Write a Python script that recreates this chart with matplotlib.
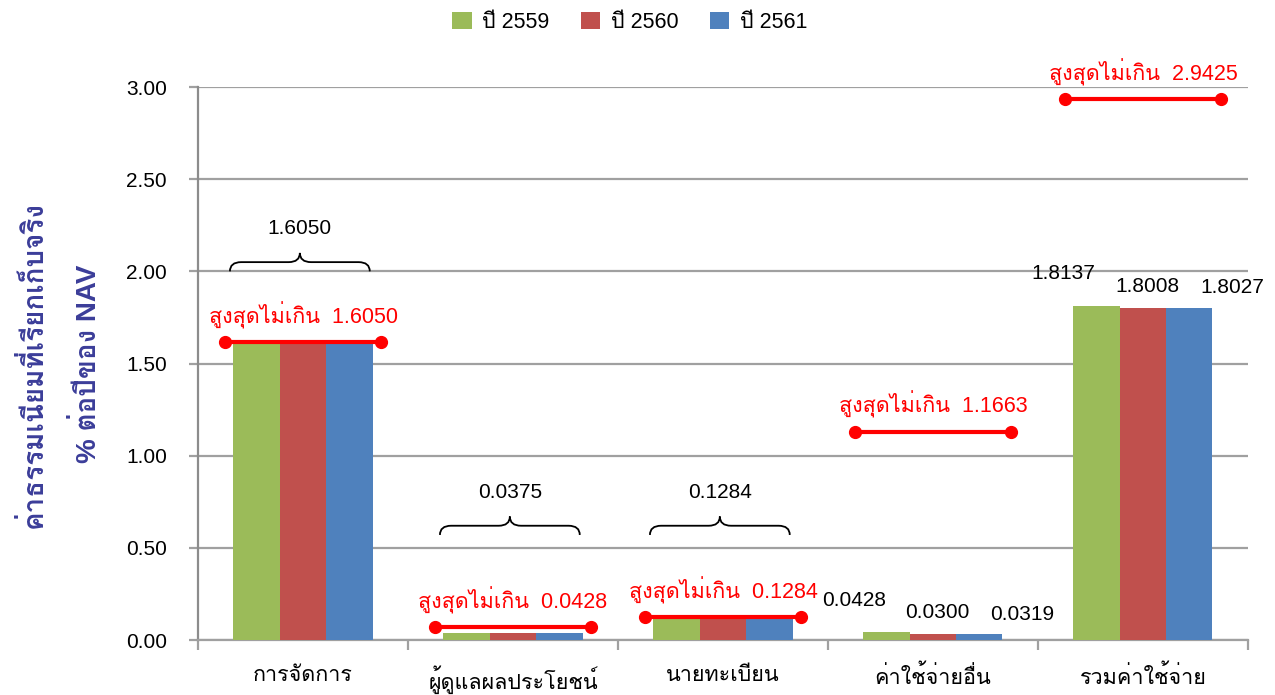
"""
Fund fee chart (Thai) - bars per year with max-limit markers
"""
import numpy as np
import matplotlib
matplotlib.use("Agg")
import matplotlib.pyplot as plt
from matplotlib import font_manager
from matplotlib.ft2font import FT2Font
from matplotlib.path import Path
from matplotlib.patches import PathPatch

# USER DATA
categories = ["การจัดการ", "ผู้ดูแลผลประโยชน์", "นายทะเบียน", "ค่าใช้จ่ายอื่น", "รวมค่าใช้จ่าย"]
years = ["ปี 2559", "ปี 2560", "ปี 2561"]
fee_2559 = [1.6050, 0.0375, 0.1284, 0.0428, 1.8137]
fee_2560 = [1.6050, 0.0375, 0.1284, 0.0300, 1.8008]
fee_2561 = [1.6050, 0.0375, 0.1284, 0.0319, 1.8027]
max_limit = [1.6050, 0.0428, 0.1284, 1.1663, 2.9425]
max_line_y = [1.617, 0.07, 0.125, 1.13, 2.935]   # where the red lines sit in the picture
brace_cats = [0, 1, 2]
brace_text = ["1.6050", "0.0375", "0.1284"]
brace_y = [2.0, 0.57, 0.57]
label_cats = [3, 4]   # groups with value labels

colors = ["#9BBB59", "#C0504D", "#4F81BD"]
OUTPUT_FILE_NAME = "out.png"


# find a font with Thai glyphs
def find_thai_font():
    for f in font_manager.fontManager.ttflist:
        try:
            cmap = FT2Font(f.fname).get_charmap()
        except Exception:
            continue
        if 0x0E01 in cmap and 0x0E48 in cmap:
            return f.name
    return None


thai = find_thai_font()
fams = ["Liberation Sans"] + ([thai] if thai else []) + ["DejaVu Sans"]
plt.rcParams["font.family"] = fams


def draw_brace(ax, x0, x1, y0, h):
    xm = (x0 + x1) / 2
    q = (x1 - x0) * 0.08
    ym = y0 + h * 0.5
    verts = [(x0, y0), (x0, ym), (x0 + q, ym), (xm - q, ym),
             (xm, ym), (xm, y0 + h), (xm, ym), (xm + q, ym),
             (x1 - q, ym), (x1, ym), (x1, y0)]
    codes = [Path.MOVETO, Path.CURVE3, Path.CURVE3, Path.LINETO,
             Path.CURVE3, Path.CURVE3, Path.CURVE3, Path.CURVE3,
             Path.LINETO, Path.CURVE3, Path.CURVE3]
    ax.add_patch(PathPatch(Path(verts, codes), fill=False, lw=1.3,
                           edgecolor="black", zorder=4))


fig = plt.figure(figsize=(12.75, 6.95), dpi=100)
ax = fig.add_axes([0.1553, 0.0791, 0.8235, 0.7957])

x = np.arange(len(categories))
bw = 0.2207
series = [fee_2559, fee_2560, fee_2561]
for k, vals in enumerate(series):
    ax.bar(x + (k - 1) * bw, vals, bw, color=colors[k], label=years[k], zorder=3)

ax.set_xlim(-0.5, len(categories) - 0.5)
ax.set_ylim(0, 3.0)
ax.set_yticks(np.arange(0, 3.01, 0.5))
ax.set_yticklabels([f"{v:.2f}" for v in np.arange(0, 3.01, 0.5)], fontsize=15)
ax.grid(axis="y", color="#A0A0A0", lw=1.6, zorder=0)
for s in ["top", "right"]:
    ax.spines[s].set_visible(False)
ax.spines["left"].set_color("#8C8C8C")
ax.spines["left"].set_linewidth(1.6)
ax.spines["bottom"].set_color("#A0A0A0")
ax.spines["bottom"].set_linewidth(1.6)
ax.tick_params(axis="y", length=6.5, width=1.6, color="#A0A0A0", pad=16)

ax.set_xticks(np.arange(-0.5, len(categories)), minor=False)
ax.set_xticklabels([])
ax.set_xticks(x, minor=True)
ax.set_xticklabels(categories, minor=True, fontsize=15.5)
ax.tick_params(axis="x", which="major", length=7, width=1.6, color="#A0A0A0")
ax.tick_params(axis="x", which="minor", length=0, pad=18)

# red max-limit lines
for i in range(len(categories)):
    ax.plot([i - 0.37, i + 0.37], [max_line_y[i]] * 2, color="red", lw=3,
            marker="o", markersize=8.5, zorder=5, clip_on=False)
    ax.annotate(f"สูงสุดไม่เกิน  {max_limit[i]:.4f}", (i, max_line_y[i]),
                xytext=(0, 27), textcoords="offset pixels", ha="center",
                va="center", color="red", fontsize=15.5)

# braces
for c, t, yb in zip(brace_cats, brace_text, brace_y):
    draw_brace(ax, c - 0.348, c + 0.318, yb, 0.1)
    ax.text(c - 0.015, yb + 0.23, t, ha="center", va="center", fontsize=15)

# value labels
offs = [(-33, 32), (4, 22), (43, 20)]
for c in label_cats:
    for k, vals in enumerate(series):
        ax.annotate(f"{vals[c]:.4f}", (c + (k - 1) * bw, vals[c]),
                    xytext=offs[k], textcoords="offset pixels", ha="center",
                    va="center", fontsize=15)

fig.text(0.026, 0.476, "ค่าธรรมเนียมที่เรียกเก็บจริง", rotation=90, ha="center",
         va="center", fontsize=20, fontweight="bold", color="#3B3D99")
fig.text(0.069, 0.476, "% ต่อปีของ NAV", rotation=90, ha="center",
         va="center", fontsize=20, fontweight="bold", color="#3B3D99")

fig.legend(loc="center", bbox_to_anchor=(0.494, 0.968), ncol=3, frameon=False,
           fontsize=15.5, handlelength=0.9, handleheight=0.9, columnspacing=1.45,
           handletextpad=0.5)

plt.savefig(OUTPUT_FILE_NAME, dpi=100)
